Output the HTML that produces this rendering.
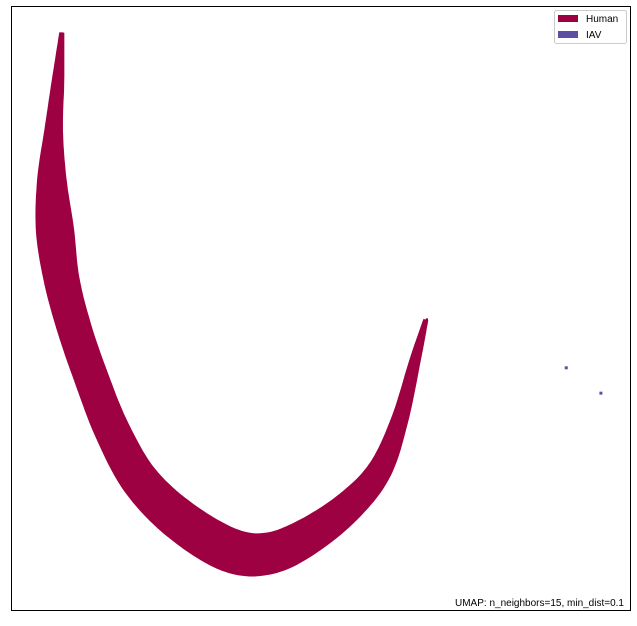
<!DOCTYPE html>
<html><head><meta charset="utf-8"><style>
body{margin:0;background:#fff;width:637px;height:621px;overflow:hidden;font-family:"Liberation Sans",sans-serif}
</style></head><body>
<svg id="chart" width="637" height="621" xmlns="http://www.w3.org/2000/svg">
<rect x="11.5" y="6.5" width="619" height="604" fill="#fff" stroke="#000" stroke-width="1"/>
<g id="marks"></g>
<g>
<rect x="554.5" y="10.5" width="72" height="33" rx="2" fill="#fff" stroke="#ccc"/>
<rect x="558" y="15" width="20" height="7" fill="#9e0142"/>
<text x="586" y="22" font-size="10">Human</text>
<rect x="558" y="31" width="20" height="7" fill="#5e4fa2"/>
<text x="586" y="38" font-size="10">IAV</text>
</g>
<text x="624" y="606" font-size="10" text-anchor="end">UMAP: n_neighbors=15, min_dist=0.1</text>
</svg>
<script>
const humanX=[8.2,7.6,6.9,6.6,7.1,8.2,10.3,13.1,16.3,20.8,27.3,35.4,41.8,48.3,54.8,59.6,62.8,65.3,67.0];
const humanY=[95.5,87.7,79.5,71.2,62.9,54.6,46.4,38.1,29.8,21.5,14.9,9.9,9.4,12.4,17.4,23.2,31.5,41.4,48.0];
const humanSpread=[0.3,0.9,1.4,2.3,3.0,2.8,2.7,2.7,2.8,3.0,3.3,3.5,3.3,2.9,2.4,1.9,1.3,0.8,0.3];
const iavX=[89.7,95.3];
const iavY=[40.1,35.9];
const sx=v=>11+v*6.19, sy=v=>610-v*6.04, sw=v=>v*6.1;
const g=document.getElementById('marks');
const NS='http://www.w3.org/2000/svg';
const P=humanX.map((x,i)=>[sx(x),sy(humanY[i]),sw(humanSpread[i])]);
const S=[];
for(let i=0;i<P.length-1;i++){
 const p0=P[Math.max(0,i-1)],p1=P[i],p2=P[i+1],p3=P[Math.min(P.length-1,i+2)];
 for(let t=0;t<1;t+=0.1){
  const t2=t*t,t3=t2*t;
  const f=k=>0.5*((2*p1[k])+(-p0[k]+p2[k])*t+(2*p0[k]-5*p1[k]+4*p2[k]-p3[k])*t2+(-p0[k]+3*p1[k]-3*p2[k]+p3[k])*t3);
  S.push([f(0),f(1),f(2)]);
 }
}
S.push(P[P.length-1]);
const L=[],R=[];
for(let i=0;i<S.length;i++){
 const a=S[Math.max(0,i-1)],b=S[Math.min(S.length-1,i+1)];
 let dx=b[0]-a[0],dy=b[1]-a[1];const n=Math.hypot(dx,dy)||1;
 const nx=-dy/n,ny=dx/n,w=S[i][2];
 L.push([S[i][0]+nx*w,S[i][1]+ny*w]);R.push([S[i][0]-nx*w,S[i][1]-ny*w]);
}
const pts=L.concat(R.reverse()).map(p=>p[0].toFixed(1)+','+p[1].toFixed(1)).join(' ');
const band=document.createElementNS(NS,'polygon');


band.setAttribute('points',pts);
band.setAttribute('fill','#9e0142');
band.setAttribute('stroke','#9e0142');
band.setAttribute('stroke-width','1.5');
band.setAttribute('stroke-linejoin','round');
g.appendChild(band);
iavX.forEach((x,i)=>{
 const c=document.createElementNS(NS,'rect');
 
 
 c.setAttribute('x',sx(x)-1.5);c.setAttribute('y',sy(iavY[i])-1.5);
 c.setAttribute('width',3);c.setAttribute('height',3);
 c.setAttribute('fill','#5e4fa2');
 g.appendChild(c);
});
</script>
</body></html>
